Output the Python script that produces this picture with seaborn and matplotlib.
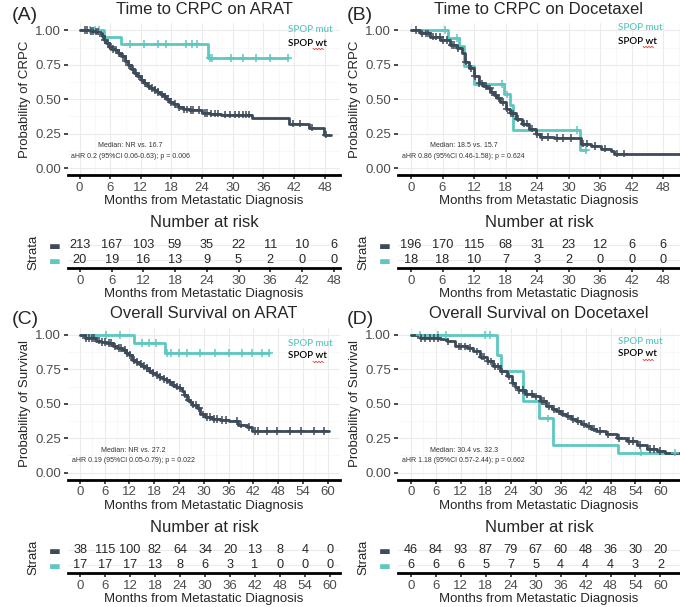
import numpy as np
import pandas as pd
import matplotlib
matplotlib.use("Agg")
import matplotlib.pyplot as plt
from matplotlib.lines import Line2D
import seaborn as sns

W, H = 680, 607
WT_COLOR = "#3C4A59"
MUT_COLOR = "#5DC7C1"
PALETTE = {"SPOP mut": MUT_COLOR, "SPOP wt": WT_COLOR}

# ---------------- A: time to CRPC on ARAT ----------------
a_mut_t = [0, 4.7, 8.2, 25.1, 40.9]
a_mut_s = [1.0, 0.95, 0.90, 0.80, 0.80]
a_mut_cens = [2.0, 3.0, 3.8, 9.8, 12.6, 15.4, 17.0, 20.8, 22.0, 22.9, 25.5, 26.0,
              29.6, 32.1, 34.6, 37.2, 40.9]
a_wt_t = [0, 2.0, 3.0, 3.8, 4.3, 4.7, 5.2, 5.7, 6.3, 6.9, 7.5, 8.2, 8.8, 9.4, 10.0,
          10.7, 11.3, 12.0, 12.6, 13.2, 13.8, 14.5, 15.1, 15.7, 16.4, 17.0, 17.6,
          18.3, 19.2, 20.2, 21.5, 22.7, 23.9, 25.5, 27.7, 33.7, 41.1, 45.0, 47.9, 49.2]
a_wt_s = [1.0, 0.995, 0.99, 0.98, 0.955, 0.93, 0.905, 0.88, 0.865, 0.855, 0.835, 0.81,
          0.78, 0.75, 0.72, 0.69, 0.665, 0.64, 0.615, 0.595, 0.58, 0.565, 0.55, 0.535,
          0.52, 0.50, 0.48, 0.465, 0.44, 0.425, 0.422, 0.42, 0.40, 0.395, 0.388, 0.36,
          0.323, 0.294, 0.243, 0.243]
a_wt_cens = [1.0, 1.5, 2.2, 2.7, 3.3, 3.6, 4.5, 5.0, 5.5, 6.1, 6.6, 7.2, 7.8, 8.5, 9.1,
             9.7, 10.4, 11.0, 11.6, 12.3, 12.9, 13.5, 14.2, 14.8, 15.4, 16.1, 16.7,
             17.3, 18.0, 18.7, 19.5, 20.5, 21.0, 21.8, 22.3, 23.3, 24.5, 25.0, 25.8,
             26.5, 27.2, 28.5, 29.5, 30.5, 31.3, 32.0, 32.6, 33.2, 41.7, 43.2, 45.5, 48.3]
a_risk_wt = [213, 167, 103, 59, 35, 22, 11, 10, 6]
a_risk_mut = [20, 19, 16, 13, 9, 5, 2, 0, 0]

# ---------------- B: time to CRPC on docetaxel ----------------
b_mut_t = [0, 7.0, 9.2, 10.0, 11.9, 17.7, 18.8, 19.4, 32.1, 33.4]
b_mut_s = [1.0, 0.944, 0.889, 0.74, 0.61, 0.534, 0.456, 0.274, 0.129, 0.129]
b_mut_cens = [6.5, 8.8, 17.3, 18.3, 31.6, 33.4]
b_wt_t = [0, 1.8, 3.7, 5.6, 7.5, 8.8, 9.7, 10.3, 11.0, 11.9, 12.9, 13.7, 14.5, 15.1,
          15.7, 16.4, 17.0, 18.0, 18.9, 19.9, 21.1, 22.4, 23.7, 24.6, 27.2, 32.3,
          34.2, 36.1, 38.0, 38.6, 51.2]
b_wt_s = [1.0, 0.978, 0.954, 0.93, 0.893, 0.869, 0.832, 0.772, 0.723, 0.667, 0.614,
          0.595, 0.578, 0.553, 0.529, 0.505, 0.48, 0.432, 0.396, 0.359, 0.323, 0.286,
          0.245, 0.226, 0.218, 0.177, 0.158, 0.141, 0.124, 0.104, 0.104]
b_wt_cens = [1.0, 2.0, 2.8, 3.3, 4.2, 4.8, 5.5, 6.0, 6.8, 7.8, 8.2, 9.0, 10.5, 11.5,
             12.2, 13.0, 13.5, 14.2, 15.0, 15.5, 16.2, 16.8, 17.5, 18.3, 19.0, 19.5,
             20.3, 21.5, 22.0, 23.0, 24.0, 25.0, 26.0, 27.8, 29.0, 30.5, 32.8, 33.5,
             35.0, 37.0, 39.3, 40.5]
b_risk_wt = [196, 170, 115, 68, 31, 23, 12, 6, 6]
b_risk_mut = [18, 18, 10, 7, 3, 2, 0, 0, 0]

# ---------------- C: overall survival on ARAT ----------------
c_mut_t = [0, 13.0, 20.5, 45.8]
c_mut_s = [1.0, 0.94, 0.867, 0.867]
c_mut_cens = [6.3, 9.7, 15.1, 16.7, 18.3, 21.2, 22.0, 24.0, 26.0, 29.2, 32.8, 36.0,
              39.2, 41.6, 44.0, 45.8]
c_wt_t = [0, 1.1, 3.9, 5.0, 6.3, 7.9, 9.0, 10.3, 11.2, 11.9, 12.7, 13.5, 14.3, 15.1,
          15.9, 16.7, 17.5, 18.3, 19.1, 20.0, 20.8, 21.6, 22.4, 23.2, 24.0, 24.6, 25.2,
          26.0, 26.6, 27.2, 28.4, 29.2, 30.4, 32.0, 34.0, 36.0, 38.4, 40.4, 41.6, 60.4]
c_wt_s = [1.0, 0.976, 0.959, 0.95, 0.94, 0.916, 0.905, 0.89, 0.87, 0.855, 0.819, 0.805,
          0.79, 0.775, 0.759, 0.74, 0.723, 0.71, 0.694, 0.68, 0.67, 0.655, 0.639, 0.625,
          0.614, 0.59, 0.566, 0.53, 0.51, 0.494, 0.47, 0.422, 0.405, 0.39, 0.38, 0.373,
          0.349, 0.33, 0.301, 0.301]
c_wt_cens = [1.5, 2.2, 3.0, 3.5, 4.5, 5.3, 6.0, 7.0, 7.5, 8.5, 9.5, 10.0, 10.8, 11.5,
             12.2, 13.0, 13.8, 14.7, 15.5, 16.3, 17.0, 17.8, 18.7, 19.5, 20.3, 21.0,
             21.8, 22.7, 23.5, 24.3, 25.5, 26.3, 27.5, 28.0, 28.8, 29.7, 30.8, 31.5,
             32.5, 33.3, 34.5, 35.5, 38.0, 39.0, 41.0, 42.3, 43.2, 45.2, 47.8, 50.8,
             53.5, 56.8, 59.2]
c_risk_wt = [38, 115, 100, 82, 64, 34, 20, 13, 8, 4, 0]
c_risk_mut = [17, 17, 17, 13, 8, 6, 3, 1, 0, 0, 0]

# ---------------- D: overall survival on docetaxel ----------------
d_mut_t = [0, 20.6, 21.6, 27.0, 30.7, 34.2, 49.8, 63.5]
d_mut_s = [1.0, 0.855, 0.735, 0.518, 0.393, 0.20, 0.145, 0.145]
d_mut_cens = [2.2, 6.5, 8.5, 17.8, 19.0, 33.0, 55.4, 63.5]
d_wt_t = [0, 2.2, 7.0, 8.6, 10.6, 13.4, 15.0, 16.6, 18.2, 19.8, 21.4, 23.0, 24.2, 25.0,
          25.8, 27.4, 29.4, 31.0, 32.6, 34.0, 35.0, 36.2, 37.4, 38.6, 39.8, 41.0, 42.2,
          43.4, 44.6, 47.0, 49.5, 51.9, 54.3, 56.7, 59.1, 61.1, 64.7]
d_wt_s = [1.0, 0.976, 0.969, 0.952, 0.916, 0.904, 0.88, 0.843, 0.807, 0.771, 0.735,
          0.699, 0.651, 0.625, 0.602, 0.571, 0.554, 0.518, 0.482, 0.46, 0.446, 0.428,
          0.41, 0.39, 0.373, 0.355, 0.337, 0.32, 0.301, 0.277, 0.253, 0.229, 0.20,
          0.173, 0.157, 0.145, 0.145]
d_wt_cens = [2.5, 3.5, 4.5, 5.5, 6.5, 9.0, 11.5, 12.0, 13.0, 14.2, 16.0, 17.0, 17.5,
             18.5, 19.3, 20.2, 21.0, 22.0, 23.5, 24.6, 26.0, 27.0, 28.0, 29.0, 30.0,
             31.5, 32.0, 33.2, 34.5, 35.5, 36.5, 37.8, 39.0, 40.2, 41.5, 42.8, 44.0,
             45.5, 47.5, 50.0, 52.5, 53.5, 55.0, 57.5, 58.5, 60.0]
d_risk_wt = [46, 84, 93, 87, 79, 67, 60, 48, 36, 30, 20]
d_risk_mut = [6, 6, 6, 5, 7, 5, 4, 4, 4, 3, 2]

risk_times_48 = [0, 6, 12, 18, 24, 30, 36, 42, 48]
risk_times_60 = [0, 6, 12, 18, 24, 30, 36, 42, 48, 54, 60]

sns.set_theme(style="whitegrid")
plt.rcParams["font.family"] = ["Liberation Sans", "DejaVu Sans"]

fig = plt.figure(figsize=(W / 100, H / 100), dpi=100)
fig.patch.set_facecolor("white")


def box(left, top, right, bottom):
    return [left / W, 1 - bottom / H, (right - left) / W, (bottom - top) / H]


def ftext(x, y, s, **kw):
    fig.text(x / W, 1 - y / H, s, **kw)


def step_at(times, surv, t):
    idx = np.searchsorted(times, t, side="right") - 1
    return np.asarray(surv)[idx]


def squiggle(x0, x1, y):
    # red spell-check underline below "wt"
    xs = np.arange(x0, x1 + 0.1, 1.5)
    ys = y + np.where(np.arange(len(xs)) % 2 == 0, -0.7, 0.7)
    fig.add_artist(Line2D(xs / W, 1 - ys / H, color="#E0403A", lw=0.6))


def draw_km(ax, mut, wt, xlim, xmax, ylabel, notes, note_x):
    mut_t, mut_s, mut_c = mut
    wt_t, wt_s, wt_c = wt
    curves = pd.concat([
        pd.DataFrame({"time": mut_t, "surv": mut_s, "group": "SPOP mut"}),
        pd.DataFrame({"time": wt_t, "surv": wt_s, "group": "SPOP wt"}),
    ], ignore_index=True)
    marks = pd.concat([
        pd.DataFrame({"time": mut_c, "surv": step_at(mut_t, mut_s, mut_c), "group": "SPOP mut"}),
        pd.DataFrame({"time": wt_c, "surv": step_at(wt_t, wt_s, wt_c), "group": "SPOP wt"}),
    ], ignore_index=True)

    sns.lineplot(data=curves, x="time", y="surv", hue="group", palette=PALETTE,
                 hue_order=["SPOP mut", "SPOP wt"], drawstyle="steps-post",
                 estimator=None, sort=False, lw=2.0, legend=False, ax=ax)
    sns.scatterplot(data=marks, x="time", y="surv", hue="group", palette=PALETTE,
                    marker="+", s=30, linewidth=1.1, legend=False, ax=ax, zorder=3)

    ax.set_xlim(*xlim)
    ax.set_ylim(-0.05, 1.05)
    ax.set_xticks(range(0, xmax + 1, 6))
    ax.set_xticks(range(3, xmax + 4, 6), minor=True)
    ax.set_yticks([0, 0.25, 0.5, 0.75, 1.0])
    ax.set_yticklabels(["0.00", "0.25", "0.50", "0.75", "1.00"])
    ax.set_yticks([0.125, 0.375, 0.625, 0.875], minor=True)
    ax.set_facecolor("white")
    ax.grid(which="major", color="#EBEBEB", lw=0.8)
    ax.grid(which="minor", color="#F5F5F5", lw=0.5)
    for side in ["left", "top", "right"]:
        ax.spines[side].set_visible(False)
    ax.spines["bottom"].set_color("black")
    ax.spines["bottom"].set_linewidth(2.0)
    ax.tick_params(axis="both", which="major", labelsize=9.5, labelcolor="#4D4D4D",
                   length=3, color="#333333", pad=2, left=True, bottom=True)
    ax.tick_params(which="minor", length=0)
    ax.set_xlabel("Months from Metastatic Diagnosis", fontsize=9.5, labelpad=1)
    ax.set_ylabel(ylabel, fontsize=9.5, labelpad=3)

    ax.text(note_x, 0.16, notes[0], ha="center", va="center", fontsize=5, color="#333333")
    ax.text(note_x, 0.085, notes[1], ha="center", va="center", fontsize=5, color="#333333")


def draw_risk(ax, times, wt_n, mut_n, xlim):
    for t, n in zip(times, wt_n):
        ax.text(t, 1, str(n), ha="center", va="center", fontsize=9.2)
    for t, n in zip(times, mut_n):
        ax.text(t, 2, str(n), ha="center", va="center", fontsize=9.2)
    ax.set_xlim(*xlim)
    ax.set_ylim(2.6, 0.4)
    ax.set_xticks(times)
    ax.set_yticks([1, 2])
    ax.set_yticklabels(["\u25AC", "\u25AC"], fontsize=9, family="DejaVu Sans")
    for lab, col in zip(ax.get_yticklabels(), [WT_COLOR, MUT_COLOR]):
        lab.set_color(col)
    ax.set_facecolor("white")
    ax.grid(axis="y", color="#EBEBEB", lw=0.8)
    ax.grid(axis="x", visible=False)
    for side in ["left", "top", "right"]:
        ax.spines[side].set_visible(False)
    ax.spines["bottom"].set_color("black")
    ax.spines["bottom"].set_linewidth(2.0)
    ax.tick_params(axis="x", labelsize=9.5, labelcolor="#4D4D4D", length=3,
                   color="#333333", pad=2, bottom=True)
    ax.tick_params(axis="y", length=0, pad=5)
    ax.set_xlabel("Months from Metastatic Diagnosis", fontsize=9.5, labelpad=1)
    ax.set_ylabel("Strata", fontsize=9.5, labelpad=7)


panels = [
    dict(letter="(A)", title="Time to CRPC on ARAT", ylabel="Probability of CRPC",
         mut=(a_mut_t, a_mut_s, a_mut_cens), wt=(a_wt_t, a_wt_s, a_wt_cens),
         risk=(risk_times_48, a_risk_wt, a_risk_mut), xmax=48, xlim=(-2.27, 49.2),
         notes=("Median: NR vs. 16.7", "aHR 0.2 (95%CI 0.06-0.63); p = 0.006"), note_x=10,
         left=68, right=340, top=23.4, dy=0, letter_x=12, legend_xy=(288, 30)),
    dict(letter="(B)", title="Time to CRPC on Docetaxel", ylabel="Probability of CRPC",
         mut=(b_mut_t, b_mut_s, b_mut_cens), wt=(b_wt_t, b_wt_s, b_wt_cens),
         risk=(risk_times_48, b_risk_wt, b_risk_mut), xmax=48, xlim=(-2.48, 51.2),
         notes=("Median: 18.5 vs. 15.7", "aHR 0.86 (95%CI 0.46-1.58); p = 0.624"), note_x=10,
         left=398, right=680, top=23.4, dy=0, letter_x=347, legend_xy=(618, 28)),
    dict(letter="(C)", title="Overall Survival on ARAT", ylabel="Probability of Survival",
         mut=(c_mut_t, c_mut_s, c_mut_cens), wt=(c_wt_t, c_wt_s, c_wt_cens),
         risk=(risk_times_60, c_risk_wt, c_risk_mut), xmax=60, xlim=(-2.9, 62.4),
         notes=("Median: NR vs. 27.2", "aHR 0.19 (95%CI 0.05-0.79); p = 0.022"), note_x=13,
         left=68, right=340, top=328, dy=305, letter_x=12, legend_xy=(288, 343)),
    dict(letter="(D)", title="Overall Survival on Docetaxel", ylabel="Probability of Survival",
         mut=(d_mut_t, d_mut_s, d_mut_cens), wt=(d_wt_t, d_wt_s, d_wt_cens),
         risk=(risk_times_60, d_risk_wt, d_risk_mut), xmax=60, xlim=(-3.1, 64.7),
         notes=("Median: 30.4 vs. 32.3", "aHR 1.18 (95%CI 0.57-2.44); p = 0.662"), note_x=12.7,
         left=398, right=680, top=328, dy=305, letter_x=347, legend_xy=(618, 341)),
]

for p in panels:
    dy = p["dy"]
    ax = fig.add_axes(box(p["left"], p["top"], p["right"], p["top"] + 151.5))
    draw_km(ax, p["mut"], p["wt"], p["xlim"], p["xmax"], p["ylabel"], p["notes"], p["note_x"])
    tab = fig.add_axes(box(p["left"], 237 + dy, p["right"], 268 + dy))
    draw_risk(tab, *p["risk"], p["xlim"])

    cx = (p["left"] + p["right"]) / 2
    ftext(cx, 9 + dy, p["title"], ha="center", va="center", fontsize=12)
    ftext(p["letter_x"], 15 + dy, p["letter"], ha="left", va="center", fontsize=14)
    ftext(cx, 223 + dy, "Number at risk", ha="center", va="center", fontsize=12)

    # legend written as coloured labels in the corner
    lx, ly = p["legend_xy"]
    ftext(lx, ly, "SPOP mut", ha="left", va="center", fontsize=7,
          color=MUT_COLOR, family=["Lato", "DejaVu Sans"], fontweight="semibold")
    ftext(lx, ly + 13, "SPOP wt", ha="left", va="center", fontsize=7,
          color="black", family=["Lato", "DejaVu Sans"], fontweight="semibold")
    squiggle(lx + 25, lx + 36, ly + 19)

fig.savefig("out.png", dpi=100, facecolor="white")
